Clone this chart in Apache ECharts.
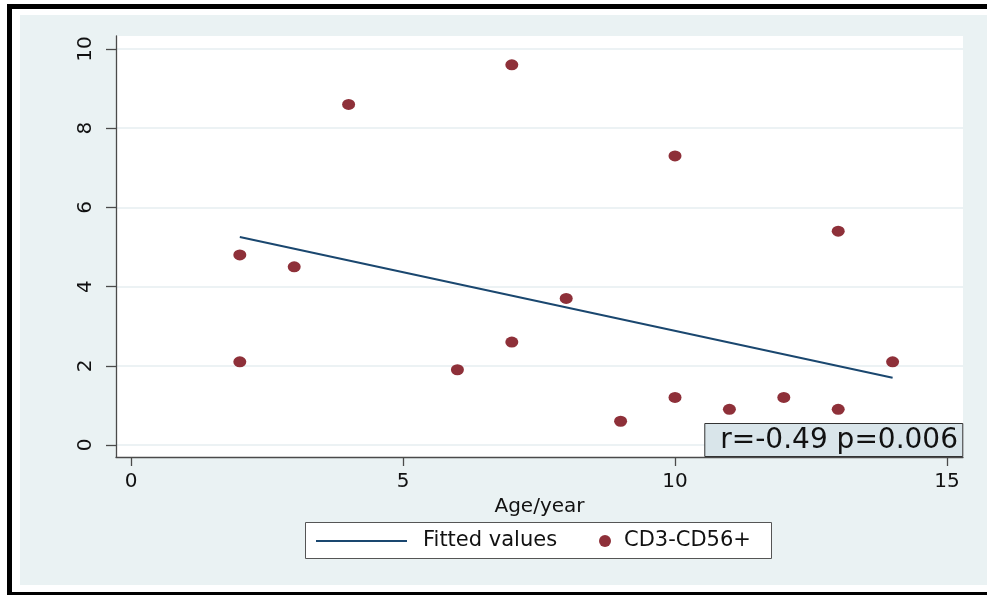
<!DOCTYPE html>
<html>
<head>
<meta charset="utf-8">
<script src="https://cdn.jsdelivr.net/npm/echarts@6/dist/echarts.min.js"></script>
<style>
    html, body { margin: 0; padding: 0; background: #fff; }
    #main { width: 987px; height: 595px; }
</style>
</head>
<body>
<div id="main"></div>
<script>
// age (years) vs CD3-CD56+ values
const ageX = [2, 2, 3, 4, 6, 7, 7, 8, 9, 10, 10, 11, 12, 13, 13, 14];
const cdY = [4.8, 2.1, 4.5, 8.6, 1.9, 9.6, 2.6, 3.7, 0.6, 7.3, 1.2, 0.9, 1.2, 5.4, 0.9, 2.1];

// fitted line end points
const fitX = [2, 14];
const fitY = [5.25, 1.7];

const xTicks = [0, 5, 10, 15];
const yTicks = [0, 2, 4, 6, 8, 10];
const statText = 'r=-0.49 p=0.006';

const FONT = 'DejaVu Sans';
const NAVY = '#1A476F';
const MAROON = '#8E3039';
const AXIS = '#4a4a4a';

var myChart = echarts.init(document.getElementById('main'), null, { renderer: 'canvas' });

var points = ageX.map(function (x, i) { return [x, cdY[i]]; });
var fitted = fitX.map(function (x, i) { return [x, fitY[i]]; });

var option = {
    backgroundColor: '#fff',
    animation: false,
    graphic: [
        {
            type: 'rect',
            z: -10,
            silent: true,
            shape: { x: 9.5, y: 6.5, width: 1000, height: 588 },
            style: { fill: '#fff', stroke: '#000', lineWidth: 5 }
        },
        {
            type: 'rect',
            z: -9,
            silent: true,
            shape: { x: 20, y: 15, width: 967, height: 570 },
            style: { fill: '#EAF2F3' }
        },
        {
            // legend frame
            type: 'rect',
            z: 5,
            silent: true,
            shape: { x: 305.5, y: 522.5, width: 466, height: 36 },
            style: { fill: '#fff', stroke: '#555', lineWidth: 1 }
        }
    ],
    title: {
        text: statText,
        right: 24,
        bottom: 138,
        padding: [2, 5, 0, 16],
        backgroundColor: '#D9E5EA',
        borderColor: '#333',
        borderWidth: 1,
        textStyle: {
            fontFamily: FONT,
            fontSize: 28,
            fontWeight: 'normal',
            color: '#111',
            lineHeight: 32
        }
    },
    grid: {
        left: 116,
        top: 36,
        right: 24,
        bottom: 138,
        show: true,
        backgroundColor: '#fff',
        borderWidth: 0
    },
    legend: [
        {
            data: [{ name: 'Fitted values', icon: 'rect', itemStyle: { color: NAVY } }],
            left: 316,
            top: 529,
            padding: 0,
            itemWidth: 91,
            itemHeight: 2,
            z: 6,
            textStyle: { fontFamily: FONT, fontSize: 21, color: '#111', lineHeight: 24, padding: [0, 0, 0, 11] }
        },
        {
            data: [{ name: 'CD3-CD56+', icon: 'circle' }],
            left: 599,
            top: 529,
            padding: 0,
            itemWidth: 12,
            itemHeight: 12,
            z: 6,
            textStyle: { fontFamily: FONT, fontSize: 21, color: '#111', lineHeight: 24, padding: [0, 0, 0, 8] }
        }
    ],
    xAxis: {
        type: 'value',
        min: -0.276,
        max: 15.294,
        name: 'Age/year',
        nameLocation: 'middle',
        nameGap: 31,
        nameTextStyle: { fontFamily: FONT, fontSize: 20, color: '#111' },
        axisLine: { show: true, onZero: false, lineStyle: { color: AXIS, width: 1.3 } },
        axisTick: { show: true, length: 9, customValues: xTicks, lineStyle: { color: AXIS, width: 1.3 } },
        axisLabel: {
            customValues: xTicks,
            margin: 15,
            fontFamily: FONT,
            fontSize: 20,
            color: '#111'
        },
        splitLine: { show: false }
    },
    yAxis: {
        type: 'value',
        min: -0.303,
        max: 10.328,
        axisLine: { show: true, onZero: false, lineStyle: { color: AXIS, width: 1.3 } },
        axisTick: { show: true, length: 10, customValues: yTicks, lineStyle: { color: AXIS, width: 1.3 } },
        axisLabel: {
            customValues: yTicks,
            rotate: 90,
            margin: 20,
            fontFamily: FONT,
            fontSize: 20,
            color: '#111'
        },
        splitLine: { show: true, lineStyle: { color: '#E6EEF1', width: 1.5 } }
    },
    series: [
        {
            name: 'Fitted values',
            type: 'line',
            data: fitted,
            symbol: 'none',
            lineStyle: { color: NAVY, width: 2 },
            itemStyle: { color: NAVY },
            z: 3
        },
        {
            name: 'CD3-CD56+',
            type: 'scatter',
            data: points,
            symbol: 'circle',
            symbolSize: [13, 11],
            itemStyle: { color: MAROON, opacity: 1 },
            z: 4
        }
    ]
};

myChart.setOption(option);
</script>
</body>
</html>
